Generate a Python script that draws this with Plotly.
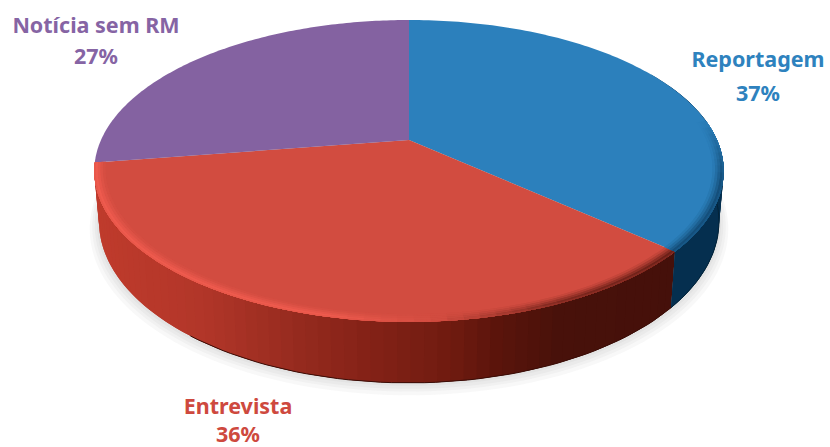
import numpy as np
import plotly.graph_objects as go

categories = ["Reportagem", "Entrevista", "Notícia sem RM"]
values = [36.6, 36.0, 27.4]
face_colors = ["#2C80BC", "#D24C40", "#8462A1"]
text_colors = ["#2E82BE", "#CE493E", "#8664A4"]
label_pos = [(758, 62, 96), (238, 409, 437), (96, 28, 59)]

W, H = 830, 447
CX, CY, K, B, C = 409.0, 140.0, 308.0, -115.9, 0.205


def rgb(h):
    return np.array([int(h[i:i + 2], 16) for i in (1, 3, 5)], float)


def css(c):
    return "rgb(%d,%d,%d)" % tuple(np.clip(np.round(c), 0, 255))


def mix(a, b, w):
    return a + (b - a) * w


def project(theta, r=1.0):
    u, v = r * np.sin(theta), r * np.cos(theta)
    w = 1 + C * v
    return CX + K * u / w, (CY + B * v) / w


def project_bottom(theta):
    x, y = project(theta)
    v = np.cos(theta)
    return CX + (x - CX) * 0.985, y + 48.5 / (1 + C * v)


fig = go.Figure()


def poly(x, y, color):
    fig.add_trace(go.Scatter(x=x, y=y, mode="none", fill="toself", fillcolor=color,
                             hoverinfo="skip", showlegend=False))


fracs = np.cumsum([0] + values) / sum(values) * 2 * np.pi
starts, ends = fracs[:-1], fracs[1:]

# soft shadow
ring = np.linspace(0, 2 * np.pi, 180)
bx, by = project_bottom(ring)
for s, dy in [(1.030, 6), (1.022, 4), (1.014, 3), (1.007, 1.5)]:
    fig.add_trace(go.Scatter(x=CX + (bx - CX) * s, y=171 + (by - 171) * s + dy, mode="none", fill="toself",
                             fillcolor="rgba(90,90,90,0.045)", hoverinfo="skip", showlegend=False))

# side wall gradient, shaded by horizontal position
red_x = [95, 200, 300, 345, 450, 500, 560, 680]
red_c = np.array([rgb(c) for c in ["#BF3B2C", "#B23629", "#952A1E", "#8A2419", "#701B10", "#5A140B", "#48110A", "#45100A"]])
blue_side = rgb("#052F4F")
step = np.radians(2.0)
for i in [1, 0]:
    t = starts[i]
    while t < ends[i] - 1e-6:
        t2 = min(t + step * 2, ends[i])   # overlaps the next strip, which paints over it
        tm = min(t + step, ends[i])
        seg = np.linspace(t, t2, 4)
        tx, ty = project(seg)
        ux, uy = project_bottom(seg)
        if i == 1:
            mx = float(project(np.array([t, tm]))[0].mean())
            col = np.array([np.interp(mx, red_x, red_c[:, k]) for k in range(3)])
        else:
            col = blue_side
        if np.any(np.cos(seg) < 0.35):
            poly(list(tx) + list(ux[::-1]), list(ty) + list(uy[::-1]), css(col))
        t = tm

# seam between the two walls is redrawn so the blue stays on the right
seg = np.linspace(starts[0] + np.radians(60), ends[0], 40)
tx, ty = project(seg)
ux, uy = project_bottom(seg)
poly(list(tx) + list(ux[::-1]), list(ty) + list(uy[::-1]), css(blue_side))

# bottom edge line, only where the wall is dark
for i, col in [(0, "#032338"), (1, "#3A0D07")]:
    seg = np.linspace(starts[i], ends[i], 80)
    ux, uy = project_bottom(seg)
    keep = (np.cos(seg) < 0.3) & (ux > 190)
    fig.add_trace(go.Scatter(x=ux[keep], y=uy[keep], mode="lines", line=dict(color=col, width=1),
                             hoverinfo="skip", showlegend=False))

# top faces
for i in range(3):
    seg = np.linspace(starts[i], ends[i], 120)
    x, y = project(seg)
    poly([CX] + list(x) + [CX], [CY] + list(y) + [CY], face_colors[i])

# bevel along the rim of the faces, painted from the inside out
bands = [(0.966, 0.15), (0.974, 0.4), (0.982, 0.7), (0.990, 1.0), (0.996, 0.8)]
hi = rgb("#EE5B4E")
bevel_step = np.radians(2.5)
for i in [1, 0]:
    base = rgb(face_colors[i])
    for r0, w in bands:
        t = starts[i]
        while t < ends[i] - 1e-6:
            tm = min(t + bevel_step, ends[i])
            t2 = min(t + bevel_step * 2, ends[i])
            seg = np.linspace(t, t2, 4)
            mid = (t + tm) / 2
            mx = float(project(np.array([mid]))[0][0])
            vm = np.cos(mid)
            fade = np.interp(vm, [-0.25, 0.15], [1, 0])
            if fade > 0:
                if i == 1:
                    up = np.interp(mx, [95, 330, 440], [1, 1, 0])
                    down = np.interp(mx, [440, 560, 680], [0, 0.6, 0.75])
                    col = mix(mix(base, hi, up * w), rgb("#48110A"), down * w)
                else:
                    col = mix(base, blue_side, 0.6 * w * fade)
                xa, ya = project(seg, r0)
                xb, yb = project(seg, 1.0)
                poly(list(xa) + list(xb[::-1]), list(ya) + list(yb[::-1]), css(col))
            t = tm

for name, val, col, (lx, y1, y2) in zip(categories, values, text_colors, label_pos):
    for txt, ly in [(name, y1), (f"{round(val)}%", y2)]:
        fig.add_trace(go.Scatter(x=[lx], y=[ly], mode="text", text=[txt], textposition="middle center",
                                 textfont=dict(family="Noto Sans", size=21.5, color=col, weight="bold"),
                                 hoverinfo="skip", showlegend=False, cliponaxis=False))

fig.update_layout(width=W, height=H, margin=dict(l=0, r=0, t=0, b=0), paper_bgcolor="white",
                  plot_bgcolor="white",
                  xaxis=dict(range=[0, W], visible=False, fixedrange=True),
                  yaxis=dict(range=[H, 0], visible=False, fixedrange=True))
fig.write_html("out.html", config={"displayModeBar": False},
               post_script="document.body.style.margin='0';document.documentElement.style.overflow='hidden';")
